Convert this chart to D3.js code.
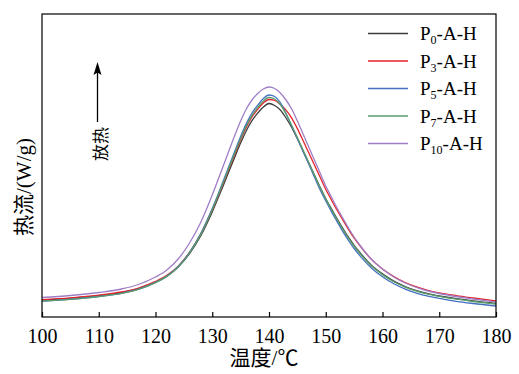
<!DOCTYPE html>
<html><head><meta charset="utf-8">
<script src="https://cdn.jsdelivr.net/npm/d3@7/dist/d3.min.js"></script>
<style>body{margin:0;background:#fff}svg{display:block}</style>
</head><body><svg id="c" width="519" height="374"></svg>
<script>
// Temperature (°C)
const temps = [100,105,110,114,117,120,122,124,126,128,130,132,134,135,136,137,138,139,140,141,142,143,144,145,146,147,148,149,150,151,152,153,154,155,156,158,160,162,164,166,168,170,173,176,180];
// Heat flow (arbitrary units, exothermic up)
const p0  = [0.168,0.187,0.213,0.244,0.283,0.347,0.407,0.499,0.634,0.816,1.051,1.323,1.603,1.739,1.862,1.963,2.038,2.100,2.135,2.115,2.070,1.990,1.896,1.782,1.661,1.540,1.419,1.298,1.183,1.081,0.981,0.888,0.798,0.717,0.646,0.521,0.431,0.359,0.305,0.265,0.234,0.211,0.184,0.161,0.135];
const p3  = [0.173,0.192,0.219,0.250,0.290,0.356,0.416,0.509,0.647,0.832,1.072,1.348,1.633,1.772,1.897,2.000,2.076,2.140,2.175,2.165,2.125,2.069,1.989,1.884,1.765,1.643,1.521,1.399,1.277,1.170,1.067,0.971,0.877,0.790,0.713,0.579,0.481,0.404,0.345,0.301,0.267,0.242,0.214,0.190,0.160];
const p5  = [0.158,0.178,0.205,0.237,0.278,0.346,0.409,0.505,0.647,0.837,1.084,1.369,1.662,1.805,1.934,2.040,2.118,2.185,2.220,2.205,2.145,2.035,1.909,1.784,1.656,1.529,1.401,1.273,1.162,1.054,0.954,0.856,0.765,0.685,0.614,0.493,0.402,0.332,0.279,0.239,0.208,0.186,0.157,0.135,0.110];
const p7  = [0.158,0.177,0.204,0.236,0.277,0.344,0.406,0.500,0.641,0.829,1.073,1.354,1.644,1.785,1.913,2.017,2.094,2.160,2.195,2.180,2.125,2.030,1.915,1.794,1.669,1.544,1.419,1.294,1.181,1.075,0.975,0.879,0.789,0.708,0.637,0.514,0.424,0.353,0.299,0.259,0.228,0.206,0.178,0.155,0.130];
const p10 = [0.195,0.215,0.245,0.280,0.325,0.400,0.470,0.580,0.740,0.950,1.220,1.520,1.820,1.960,2.080,2.170,2.235,2.280,2.300,2.285,2.240,2.170,2.080,1.960,1.830,1.700,1.570,1.440,1.310,1.200,1.090,0.990,0.890,0.800,0.720,0.580,0.480,0.400,0.340,0.295,0.260,0.235,0.205,0.180,0.150];

const seriesSubs  = ["0","3","5","7","10"];
const seriesValues = [p0,p3,p5,p7,p10];
const seriesColors = ["#3c3c3c","#e5232b","#4470c0","#5a9c6c","#9f7ec6"];
const xTicks = [100,110,120,130,140,150,160,170,180];

const svg = d3.select("#c");
const L=42,R=496,T=14,B=317;
const x = d3.scaleLinear().domain([100,180]).range([L,R]);
const y = d3.scaleLinear().domain([0,3.03]).range([B,T]);
const serif = "'Liberation Serif','Times New Roman','Noto Sans CJK SC',serif";

const line = d3.line().x((d,i)=>x(temps[i])).y(d=>y(d)).curve(d3.curveMonotoneX);
seriesValues.forEach((vals,k)=>{
  svg.append("path").datum(vals).attr("d",line)
    .attr("fill","none").attr("stroke",seriesColors[k]).attr("stroke-width",1.3);
});

// frame
svg.append("rect").attr("x",L).attr("y",T).attr("width",R-L).attr("height",B-T)
  .attr("fill","none").attr("stroke","#000").attr("stroke-width",1.2);

const ax = svg.append("g").attr("transform",`translate(0,${B})`)
  .call(d3.axisBottom(x).tickValues(xTicks).tickSizeInner(-5).tickSizeOuter(0).tickPadding(12).tickFormat(d3.format("d")));
ax.select(".domain").remove();
ax.selectAll("line").attr("stroke","#000").attr("stroke-width",1.2);
ax.selectAll("text").attr("font-family",serif).attr("font-size",20).attr("fill","#000");

// axis titles
svg.append("text").attr("x",264).attr("y",365).attr("text-anchor","middle")
  .attr("font-family",serif).attr("font-size",21).text("温度/℃");
svg.append("text").attr("transform","translate(31,187) rotate(-90)").attr("text-anchor","middle")
  .attr("font-family",serif).attr("font-size",21).text("热流/(W/g)");

// exotherm arrow
svg.append("line").attr("x1",97.5).attr("x2",97.5).attr("y1",122).attr("y2",72)
  .attr("stroke","#000").attr("stroke-width",1.3);
svg.append("path").attr("d","M97.5,62 L101.5,75 L97.5,72.5 L93.5,75 Z").attr("fill","#000");
svg.append("text").attr("transform","translate(107,144) rotate(-90)").attr("text-anchor","middle")
  .attr("font-family",serif).attr("font-size",17).text("放热");

// legend
const lg = svg.append("g");
seriesSubs.forEach((s,k)=>{
  const yy = 33.5 + k*27.5;
  lg.append("line").attr("x1",368).attr("x2",408).attr("y1",yy).attr("y2",yy)
    .attr("stroke",seriesColors[k]).attr("stroke-width",1.3);
  const t = lg.append("text").attr("x",420).attr("y",yy+6.5)
    .attr("font-family",serif).attr("font-size",19).attr("fill","#000");
  t.append("tspan").text("P");
  t.append("tspan").attr("font-size",12).attr("dy",4).text(s);
  t.append("tspan").attr("dy",-4).text("-A-H");
});
</script></body></html>
